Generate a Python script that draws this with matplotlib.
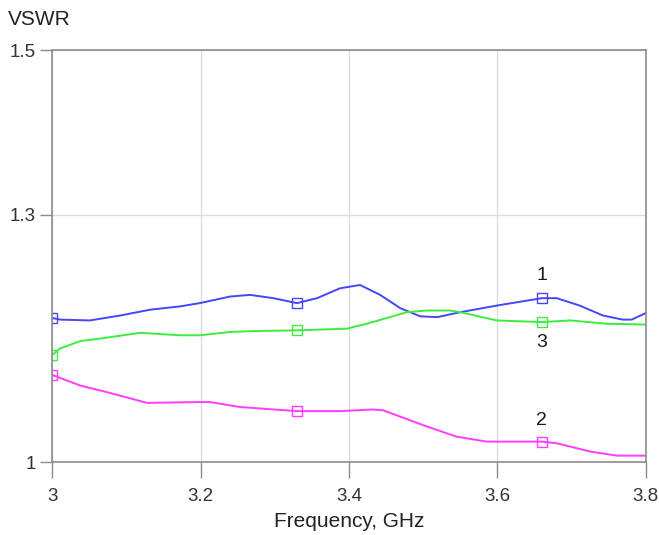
"""
VSWR versus frequency for three ports
"""

import matplotlib
matplotlib.use('agg')
import matplotlib.pyplot as plt

plt.rcParams['font.family'] = ['Liberation Sans', 'DejaVu Sans']

# frequency (GHz) / VSWR pairs for each trace
freq_1 = [3.000, 3.011, 3.051, 3.092, 3.132, 3.172, 3.199, 3.240, 3.267, 3.298,
          3.330, 3.357, 3.388, 3.415, 3.442, 3.469, 3.496, 3.519, 3.550, 3.599,
          3.660, 3.680, 3.711, 3.742, 3.769, 3.781, 3.800]
vswr_1 = [1.175, 1.173, 1.172, 1.178, 1.185, 1.189, 1.193, 1.201, 1.203, 1.199,
          1.193, 1.199, 1.211, 1.215, 1.203, 1.187, 1.177, 1.176, 1.182, 1.190,
          1.199, 1.199, 1.190, 1.178, 1.173, 1.173, 1.181]

freq_2 = [3.000, 3.038, 3.074, 3.128, 3.199, 3.213, 3.253, 3.330, 3.388, 3.432,
          3.446, 3.500, 3.545, 3.586, 3.660, 3.680, 3.725, 3.761, 3.800]
vswr_2 = [1.106, 1.093, 1.085, 1.072, 1.073, 1.073, 1.067, 1.062, 1.062, 1.064,
          1.063, 1.045, 1.031, 1.025, 1.025, 1.023, 1.013, 1.008, 1.008]

freq_3 = [3.000, 3.011, 3.038, 3.065, 3.119, 3.172, 3.199, 3.240, 3.267, 3.330,
          3.397, 3.424, 3.455, 3.478, 3.505, 3.536, 3.550, 3.599, 3.660, 3.698,
          3.747, 3.800]
vswr_3 = [1.130, 1.138, 1.147, 1.150, 1.157, 1.154, 1.154, 1.158, 1.159, 1.160,
          1.162, 1.168, 1.176, 1.182, 1.184, 1.184, 1.182, 1.172, 1.170, 1.172,
          1.168, 1.167]

marker_freqs = [3.0, 3.33, 3.66]
x_ticks = [3.0, 3.2, 3.4, 3.6, 3.8]
x_tick_labels = ['3', '3.2', '3.4', '3.6', '3.8']
y_ticks = [1.0, 1.3, 1.5]
y_tick_labels = ['1', '1.3', '1.5']

traces = [
    ('1', freq_1, vswr_1, '#4646f5', 16),
    ('2', freq_2, vswr_2, '#ff3cff', 15),
    ('3', freq_3, vswr_3, '#3ded3d', -15),
]

figure = plt.figure(figsize=(6.59, 5.35), dpi=100)
axes = figure.add_axes([0.079, 0.136, 0.901, 0.7705])

for name, freqs, values, color, label_dy in traces:
    marks = [freqs.index(f) for f in marker_freqs]
    axes.plot(freqs, values, color=color, linewidth=1.4,
              solid_joinstyle='round', solid_capstyle='round',
              marker='s', markersize=7, markerfacecolor='none',
              markeredgecolor=color, markeredgewidth=1.0, markevery=marks)
    i = marks[-1]
    axes.annotate(name, (freqs[i], values[i]), xytext=(0, label_dy),
                  textcoords='offset points', ha='center', va='center',
                  fontsize=14, color='#1a1a1a')

axes.set_xlim(3.0, 3.8)
axes.set_ylim(1.0, 1.5)
axes.set_xticks(x_ticks)
axes.set_xticklabels(x_tick_labels)
axes.set_yticks(y_ticks)
axes.set_yticklabels(y_tick_labels)
axes.grid(True, color='#dcdcdc', linewidth=1.0)
axes.tick_params(axis='x', direction='out', length=11.5, width=1.0,
                 color='#8c8c8c', pad=7, labelsize=13.5, labelcolor='#333333')
axes.tick_params(axis='y', direction='out', length=8.5, width=1.0,
                 color='#8c8c8c', pad=3, labelsize=13.5, labelcolor='#333333')
for spine in axes.spines.values():
    spine.set_color('#8c8c8c')
    spine.set_linewidth(1.2)

axes.set_xlabel('Frequency, GHz', fontsize=15, color='#222222', labelpad=5)
figure.text(0.012, 0.963, 'VSWR', fontsize=15, color='#222222',
            ha='left', va='center')

figure.savefig('out.png', dpi=100)
